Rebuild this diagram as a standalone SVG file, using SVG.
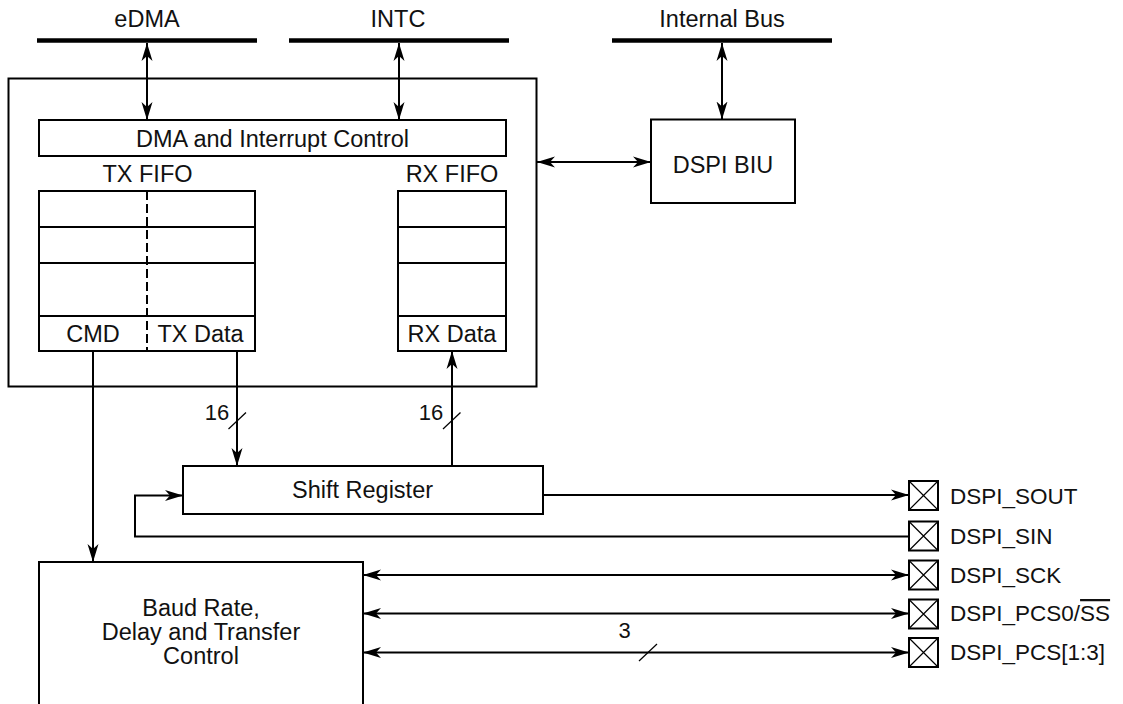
<svg xmlns="http://www.w3.org/2000/svg" width="1123" height="704" viewBox="0 0 1123 704">
<defs>
<marker id="ah" markerUnits="userSpaceOnUse" markerWidth="19" markerHeight="12" refX="18" refY="6" orient="auto-start-reverse" viewBox="0 0 19 12">
<path d="M0,0.5 L18,6 L0,11.5 L5,6 z" fill="#000"/>
</marker>
</defs>
<style>
text{font-family:"Liberation Sans",Arial,Helvetica,sans-serif;font-size:23.5px;fill:#111}
.c{text-anchor:middle}
.pin{font-size:22.5px}
.n{font-size:22px}
.box{fill:#fff;stroke:#000;stroke-width:2}
.ln{fill:none;stroke:#000;stroke-width:2}
.bus{stroke:#000;stroke-width:4.5}
.thin{stroke:#000;stroke-width:1.2;fill:none}
.arr{marker-end:url(#ah)}
.arr2{marker-end:url(#ah);marker-start:url(#ah)}
</style>
<rect width="1123" height="704" fill="#fff"/>

<g id="buses">
<line class="bus" x1="37" y1="40.5" x2="257" y2="40.5"/>
<text class="c" x="147" y="27">eDMA</text>
<line class="bus" x1="289" y1="40.5" x2="509" y2="40.5"/>
<text class="c" x="398" y="27">INTC</text>
<line class="bus" x1="612" y1="40.5" x2="832" y2="40.5"/>
<text class="c" x="722" y="27">Internal Bus</text>
</g>

<g id="dspi-module">
<rect class="box" x="8.5" y="78.5" width="528" height="308"/>
</g>

<g id="dma-int-ctrl">
<rect class="box" x="39" y="120" width="467" height="36"/>
<text class="c" x="272.5" y="147">DMA and Interrupt Control</text>
</g>

<g id="tx-fifo">
<text class="c" x="147.5" y="182">TX FIFO</text>
<rect class="box" x="39" y="191" width="216" height="160"/>
<line class="ln" x1="39" y1="227" x2="255" y2="227"/>
<line class="ln" x1="39" y1="263" x2="255" y2="263"/>
<line class="ln" x1="39" y1="316" x2="255" y2="316"/>
<line class="ln" x1="147" y1="191" x2="147" y2="351" stroke-dasharray="9,4"/>
<text class="c" x="93" y="342">CMD</text>
<text class="c" x="200.5" y="342">TX Data</text>
</g>

<g id="rx-fifo">
<text class="c" x="452" y="182">RX FIFO</text>
<rect class="box" x="398" y="191" width="108" height="160"/>
<line class="ln" x1="398" y1="227" x2="506" y2="227"/>
<line class="ln" x1="398" y1="263" x2="506" y2="263"/>
<line class="ln" x1="398" y1="316" x2="506" y2="316"/>
<text class="c" x="452" y="342">RX Data</text>
</g>

<g id="dspi-biu">
<rect class="box" x="651" y="119.5" width="144" height="83.5"/>
<text class="c" x="723" y="173">DSPI BIU</text>
</g>

<g id="shift-register">
<rect class="box" x="183" y="466" width="360" height="48"/>
<text class="c" x="362.5" y="498">Shift Register</text>
</g>

<g id="baud-ctrl">
<rect class="box" x="39" y="562" width="324" height="160"/>
<text class="c" x="201" y="616">Baud Rate,</text>
<text class="c" x="201" y="640">Delay and Transfer</text>
<text class="c" x="201" y="664">Control</text>
</g>

<g id="pins">
<g id="pin-sout">
<rect class="box" x="909" y="481" width="29" height="29"/>
<path class="thin" d="M909,481 L938,510 M938,481 L909,510"/>
<text class="pin" x="950" y="503.5">DSPI_SOUT</text>
</g>
<g id="pin-sin">
<rect class="box" x="909" y="521.5" width="29" height="29"/>
<path class="thin" d="M909,521.5 L938,550.5 M938,521.5 L909,550.5"/>
<text class="pin" x="950" y="544">DSPI_SIN</text>
</g>
<g id="pin-sck">
<rect class="box" x="909" y="560.5" width="29" height="29"/>
<path class="thin" d="M909,560.5 L938,589.5 M938,560.5 L909,589.5"/>
<text class="pin" x="950" y="583">DSPI_SCK</text>
</g>
<g id="pin-pcs0">
<rect class="box" x="909" y="599.5" width="29" height="29"/>
<path class="thin" d="M909,599.5 L938,628.5 M938,599.5 L909,628.5"/>
<text class="pin" x="950" y="621">DSPI_PCS0/<tspan style="text-decoration:overline">SS</tspan></text>
</g>
<g id="pin-pcs13">
<rect class="box" x="909" y="638" width="29" height="29"/>
<path class="thin" d="M909,638 L938,667 M938,638 L909,667"/>
<text class="pin" x="950" y="660">DSPI_PCS[1:3]</text>
</g>
</g>

<g id="connectors">
<line class="ln arr2" x1="147" y1="43" x2="147" y2="120"/>
<line class="ln arr2" x1="399" y1="43" x2="399" y2="120"/>
<line class="ln arr2" x1="722" y1="43" x2="722" y2="119.5"/>
<line class="ln arr2" x1="537" y1="162" x2="651" y2="162"/>
<line class="ln arr" x1="93" y1="351" x2="93" y2="562"/>
<line class="ln arr" x1="237" y1="351" x2="237" y2="466"/>
<line class="ln arr" x1="452" y1="466" x2="452" y2="351"/>
<line class="ln arr" x1="543" y1="495" x2="909" y2="495"/>
<path class="ln arr" d="M909,536.5 H135 V495.5 H183"/>
<line class="ln arr2" x1="363" y1="575" x2="909" y2="575"/>
<line class="ln arr2" x1="363" y1="613.5" x2="909" y2="613.5"/>
<line class="ln arr2" x1="363" y1="652.5" x2="909" y2="652.5"/>
<line class="thin" x1="228.5" y1="429" x2="246" y2="412.5"/>
<text class="c n" x="217" y="420">16</text>
<line class="thin" x1="443" y1="429" x2="460.5" y2="412.5"/>
<text class="c n" x="431" y="420">16</text>
<line class="thin" x1="639" y1="661" x2="657" y2="644"/>
<text class="c n" x="624.5" y="638">3</text>
</g>
</svg>
